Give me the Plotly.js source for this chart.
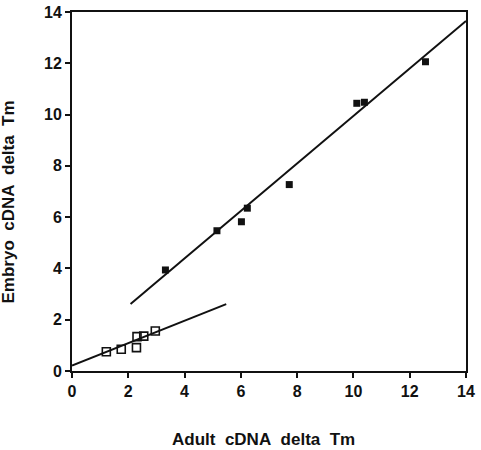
<!DOCTYPE html>
<html>
<head>
<meta charset="utf-8">
<script src="https://cdn.plot.ly/plotly-3.0.1.min.js"></script>
<style>html,body{margin:0;padding:0;background:#fff;}#chart{width:481px;height:450px;}</style>
</head>
<body>
<div id="chart"></div>
<script>
// Filled squares (upper group)
const filledX = [3.32, 5.15, 6.02, 6.23, 7.72, 10.12, 10.39, 12.56];
const filledY = [3.94, 5.47, 5.82, 6.35, 7.27, 10.44, 10.48, 12.06];
// Open squares (lower group)
const openX = [1.22, 1.75, 2.29, 2.31, 2.55, 2.96];
const openY = [0.75, 0.85, 0.91, 1.34, 1.36, 1.56];
// Regression lines (endpoints)
const fitUpperX = [2.08, 14.0];
const fitUpperY = [2.61, 13.65];
const fitLowerX = [0.0, 5.48];
const fitLowerY = [0.21, 2.61];
const tickVals = [0, 2, 4, 6, 8, 10, 12, 14];
const xTitle = "Adult\u00a0\u00a0cDNA\u00a0\u00a0delta\u00a0\u00a0Tm";
const yTitle = "Embryo\u00a0\u00a0cDNA\u00a0\u00a0delta\u00a0\u00a0Tm";

const font = "Liberation Sans, Arial, sans-serif";
const traces = [
  {x: fitUpperX, y: fitUpperY, mode: 'lines', line: {color: '#111', width: 2}, hoverinfo: 'skip'},
  {x: fitLowerX, y: fitLowerY, mode: 'lines', line: {color: '#111', width: 2}, hoverinfo: 'skip'},
  {x: filledX, y: filledY, mode: 'markers', marker: {symbol: 'square', size: 7, color: '#111'}},
  {x: openX, y: openY, mode: 'markers', marker: {symbol: 'square-open', size: 8, color: '#111', line: {width: 1.6}}}
];
const axisCommon = {
  range: [0, 14], tickvals: tickVals, ticktext: tickVals.map(String),
  showgrid: false, zeroline: false, showline: true, linecolor: '#111', linewidth: 2,
  mirror: true, ticks: 'outside', ticklen: 5, tickwidth: 2, tickcolor: '#111',
  tickfont: {family: font, size: 16, color: '#111', weight: 'bold'}
};
const titleFont = {family: font, size: 17, color: '#111', weight: 'bold'};
const layout = {
  width: 481, height: 450,
  margin: {l: 72, r: 15, t: 12, b: 79},
  paper_bgcolor: '#fff', plot_bgcolor: '#fff',
  showlegend: false,
  xaxis: Object.assign({}, axisCommon),
  yaxis: Object.assign({}, axisCommon),
  annotations: [
    {text: xTitle, xref: 'paper', yref: 'paper', x: 0.487, y: -0.192, xanchor: 'center', yanchor: 'middle', showarrow: false, font: titleFont},
    {text: yTitle, xref: 'paper', yref: 'paper', x: -0.161, y: 0.471, xanchor: 'center', yanchor: 'middle', textangle: -90, showarrow: false, font: titleFont}
  ]
};
Plotly.newPlot('chart', traces, layout, {staticPlot: true, displayModeBar: false});
</script>
</body>
</html>
